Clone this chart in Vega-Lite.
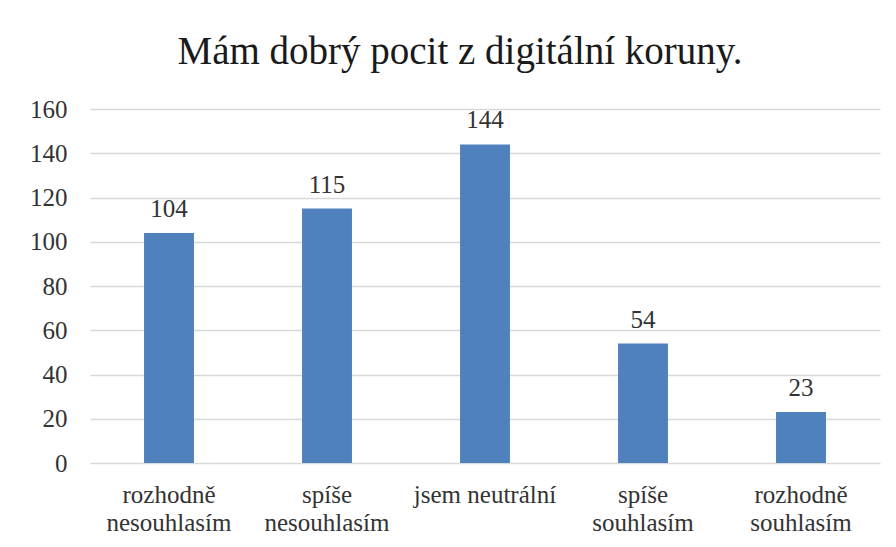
{
  "$schema": "https://vega.github.io/schema/vega-lite/v6.json",
  "width": 790,
  "height": 354,
  "autosize": {"type": "none"},
  "padding": {"left": 90, "top": 109, "right": 16, "bottom": 84},
  "background": "white",
  "title": {
    "text": "Mám dobrý pocit z digitální koruny.",
    "font": "Liberation Serif",
    "fontSize": 39,
    "fontWeight": "normal",
    "color": "#1a1a1a",
    "anchor": "middle",
    "frame": "group",
    "dx": -25,
    "offset": 25
  },
  "data": {
    "values": [
      {"odpoved": "rozhodně nesouhlasím", "pocet": 104},
      {"odpoved": "spíše nesouhlasím", "pocet": 115},
      {"odpoved": "jsem neutrální", "pocet": 144},
      {"odpoved": "spíše souhlasím", "pocet": 54},
      {"odpoved": "rozhodně souhlasím", "pocet": 23}
    ]
  },
  "encoding": {
    "x": {
      "field": "odpoved",
      "type": "nominal",
      "sort": null,
      "title": null,
      "scale": {"paddingInner": 0.684, "paddingOuter": 0.342},
      "axis": {
        "labelAngle": 0,
        "labelFont": "Liberation Serif",
        "labelFontSize": 25,
        "labelColor": "#333333",
        "labelLineHeight": 28,
        "labelPadding": 19,
        "labelExpr": "datum.label == 'jsem neutrální' ? datum.label : split(datum.label, ' ')",
        "ticks": false,
        "domain": false,
        "grid": false
      }
    },
    "y": {
      "field": "pocet",
      "type": "quantitative",
      "title": null,
      "scale": {"domain": [0, 160], "nice": false},
      "axis": {
        "values": [0, 20, 40, 60, 80, 100, 120, 140, 160],
        "labelFont": "Liberation Serif",
        "labelFontSize": 25,
        "labelColor": "#333333",
        "labelPadding": 23,
        "ticks": false,
        "domain": false,
        "gridColor": "#d9d9d9",
        "gridWidth": 1.5
      }
    }
  },
  "layer": [
    {"mark": {"type": "bar", "color": "#4f81bd"}},
    {
      "mark": {
        "type": "text",
        "font": "Liberation Serif",
        "fontSize": 25,
        "color": "#333333",
        "baseline": "alphabetic",
        "dy": -16
      },
      "encoding": {"text": {"field": "pocet", "type": "quantitative"}}
    }
  ],
  "config": {"view": {"stroke": null}}
}
